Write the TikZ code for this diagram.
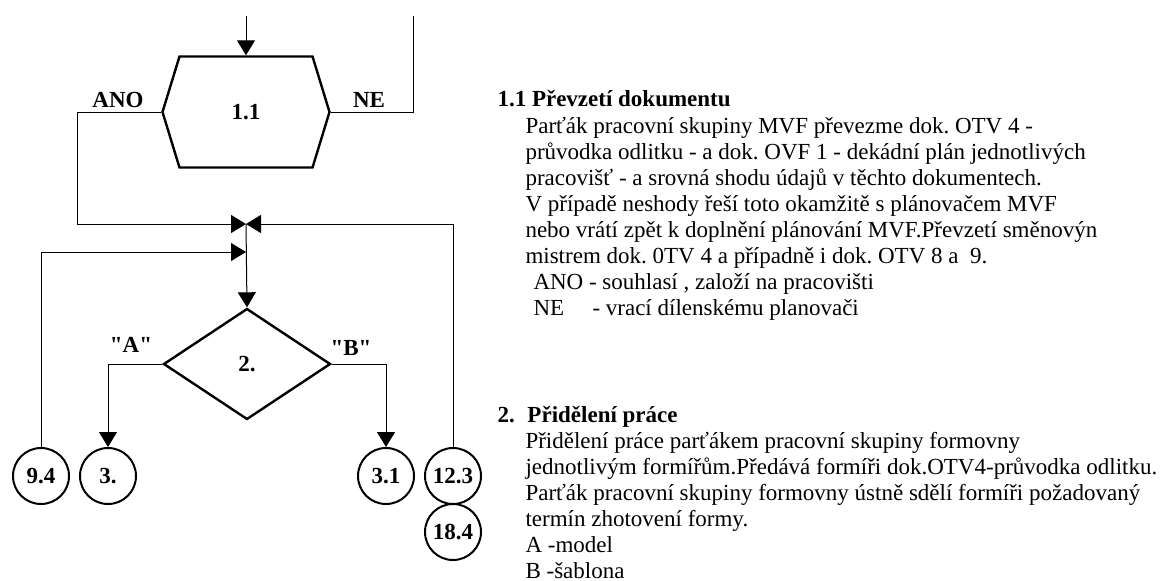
\documentclass[tikz,border=0pt]{standalone}
\usepackage{fontspec}
\setmainfont{Liberation Serif}
\newfontfamily\plainfont{Liberation Serif}[Ligatures=ResetAll]
\usetikzlibrary{shapes.geometric,shapes.symbols,arrows.meta}
\tikzset{hx/.style = {signal, signal to=west and east, signal pointer angle=146, draw, line width=1.2pt,
                      minimum width=83.5pt, minimum height=55.5pt, inner sep=0pt, font=\fontsize{11.5}{13}\selectfont\bfseries},
         dm/.style = {diamond, aspect=1.5, draw, line width=1.2pt, minimum width=83.5pt, minimum height=55.5pt,
                      inner sep=0pt, font=\fontsize{11.5}{13}\selectfont\bfseries},
         ci/.style = {circle, draw, line width=1pt, minimum size=28pt, inner sep=0pt,
                      font=\fontsize{11.5}{13}\selectfont\bfseries},
         lb/.style = {anchor=base, inner sep=0pt, font=\fontsize{11.5}{13}\selectfont\bfseries},
         tx/.style = {anchor=base west, inner sep=0pt, font=\fontsize{11.5}{13}\selectfont}}
\newcommand{\qt}{{\plainfont"}}
\frenchspacing

\begin{document}
\begin{tikzpicture}[x=0.5pt, y=-0.5pt, >={Triangle[length=7.5pt,width=9pt]}, line width=0.5pt]
    \useasboundingbox (0,0) rectangle (1162,580);
    % flowchart
    \node[hx] (h11) at (246,112) {\raisebox{-3pt}{1.1}};
    \node[dm] (d2) at (247,364) {2.};
    \node[ci] (c94) at (41,476) {9.4};
    \node[ci] (c3) at (108,476) {3.};
    \node[ci] (c31) at (386,476) {3.1};
    \node[ci] (c123) at (453,476) {12.3};
    \node[ci] (c184) at (453,532) {18.4};
    \coordinate (in) at (246,16);
    \coordinate (ne) at (413,16);
    \coordinate (j1) at (246,224);
    \coordinate (j2) at (246,252);
    \draw[->] (in) -- (h11.north);
    \draw (h11.east) -| (ne);
    \draw[->] (h11.west) -- ++(-84,0) |- (j1);
    \draw[->] (c123.north) |- (j1);
    \draw[->] (c94.north) |- (j2);
    \draw[->] (j1) -- (d2.north);
    \draw[->] (d2.west) -| (c3.north);
    \draw[->] (d2.east) -| (c31.north);
    \node[lb] (ano) at (118,107) {ANO};
    \node[lb] (nel) at (369,107) {NE};
    \node[lb] (la) at (131,352) {\qt A\qt};
    \node[lb] (lbb) at (351,355) {\qt B\qt};
    % descriptions
    \node[tx] (t11) at (497,106) {\bfseries 1.1 Převzetí dokumentu};
    \node[tx] (b11) at (525,133) {\begin{tabular}[t]{@{}l@{}}
      Parťák pracovní skupiny MVF převezme dok. OTV 4 -\\
      průvodka odlitku - a dok. OVF 1 - dekádní plán jednotlivých\\
      pracovišť - a srovná shodu údajů v těchto dokumentech.\\
      V případě neshody řeší toto okamžitě s plánovačem MVF\\
      nebo vrátí zpět k doplnění plánování MVF.Převzetí směnovýn\\
      mistrem dok. 0TV 4 a případně i dok. OTV 8 a~~9.\\
      \hspace{4pt}ANO - souhlasí , založí na pracovišti\\
      \hspace{4pt}\makebox[29.5pt][l]{NE}- vrací dílenskému planovači
    \end{tabular}};
    \node[tx] (t2) at (497,422) {\bfseries\makebox[15pt][l]{2.}Přidělení práce};
    \node[tx] (b2) at (525,448) {\begin{tabular}[t]{@{}l@{}}
      Přidělení práce parťákem pracovní skupiny formovny\\
      jednotlivým formířům.Předává formíři dok.OTV4-průvodka odlitku.\\
      Parťák pracovní skupiny formovny ústně sdělí formíři požadovaný\\
      termín zhotovení formy.\\
      A -model\\
      B -šablona
    \end{tabular}};
\end{tikzpicture}
\end{document}
